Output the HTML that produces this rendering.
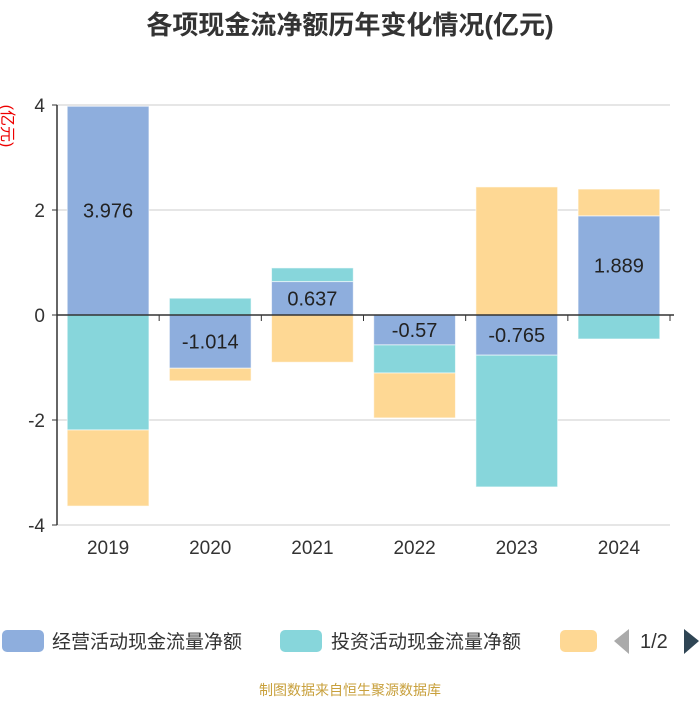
<!DOCTYPE html>
<html><head><meta charset="utf-8"><style>
body{margin:0;background:#fff;width:700px;height:700px;overflow:hidden;font-family:"Liberation Sans","Noto Sans CJK SC",sans-serif}
</style></head><body>
<svg id="c" width="700" height="700" xmlns="http://www.w3.org/2000/svg">
<text x="350" y="34" text-anchor="middle" font-size="26" font-weight="bold" fill="#333" font-family="Liberation Sans, Noto Sans CJK SC, sans-serif">各项现金流净额历年变化情况(亿元)</text>
<text transform="translate(2,126) rotate(90)" text-anchor="middle" font-size="16" fill="#e00" font-family="Liberation Sans, Noto Sans CJK SC, sans-serif">(亿元)</text>
<g id="grid"></g><g id="bars"></g><g id="axes"></g>
<g font-family="Liberation Sans, Noto Sans CJK SC, sans-serif" font-size="19" fill="#333">
<rect x="2" y="630" width="42" height="22" rx="5" fill="#8eaedd"/>
<text x="52" y="648">经营活动现金流量净额</text>
<rect x="280" y="630" width="42" height="22" rx="5" fill="#87d6db"/>
<text x="331" y="648">投资活动现金流量净额</text>
<rect x="560" y="630" width="37" height="22" rx="5" fill="#fed894"/>
<polygon points="614,641 629,629 629,654" fill="#aaa"/>
<text x="640" y="648" font-size="20">1/2</text>
<polygon points="684,629 699,641 684,654" fill="#2f4554"/>
</g>
<text x="350" y="695" text-anchor="middle" font-size="14" fill="#c8a03c" font-family="Liberation Sans, Noto Sans CJK SC, sans-serif">制图数据来自恒生聚源数据库</text>
</svg>
<script>
const categories=["2019","2020","2021","2022","2023","2024"];
const operating=[3.976,-1.014,0.637,-0.57,-0.765,1.889];
const investing=[-2.19,0.32,0.26,-0.535,-2.51,-0.457];
const financing=[-1.45,-0.24,-0.9,-0.855,2.44,0.51];
const yTicks=[-4,-2,0,2,4];
const NS="http://www.w3.org/2000/svg";
const x0=57,x1=670,y0px=315,unit=52.5;
const bw=(x1-x0)/categories.length;
function y(v){return y0px-v*unit;}
function xc(i){return x0+bw*(i+0.5);}
function mk(tag,attrs,parent,txt){const e=document.createElementNS(NS,tag);for(const k in attrs)e.setAttribute(k,attrs[k]);if(txt!=null)e.textContent=txt;document.getElementById(parent).appendChild(e);return e;}
yTicks.forEach(t=>{
 const l=mk('line',{x1:x0,x2:x1,y1:y(t),y2:y(t),stroke:'#ccc','stroke-width':1},'grid');
 
 
 const tk=mk('line',{x1:x0-5,x2:x0,y1:y(t),y2:y(t),stroke:'#333'},'axes');
 
 
 const tx=mk('text',{x:x0-12,y:y(t)+7,'text-anchor':'end','font-size':19,fill:'#333'},'axes',String(t));
 
 
});
const ya=mk('line',{x1:x0,x2:x0,y1:y(4),y2:y(-4),stroke:'#333','stroke-width':1.5},'axes');


const xa=mk('line',{x1:x0,x2:x1+4,y1:y(0),y2:y(0),stroke:'#333','stroke-width':1.5},'axes');


const series=[[operating,'#8eaedd','operating'],[investing,'#87d6db','investing'],[financing,'#fed894','financing']];
categories.forEach((c,i)=>{
 let pos=0,neg=0;
 series.forEach(([arr,col,nm])=>{
  const v=arr[i];let a,b;
  if(v>=0){a=pos;b=pos+v;pos=b;}else{a=neg;b=neg+v;neg=b;}
  const top=Math.min(y(a),y(b)),h=Math.abs(y(a)-y(b));
  const r=mk('rect',{x:xc(i)-bw*0.4,y:top,width:bw*0.8,height:h,fill:col,stroke:'rgba(255,255,255,0.6)','stroke-width':1},'bars');
  
  
  if(nm==='operating'){
   const lb=mk('text',{x:xc(i),y:top+h/2+7,'text-anchor':'middle','font-size':20,fill:'#222'},'bars',String(v));
   
   
  }
 });
 const t=mk('line',{x1:x0+bw*i,x2:x0+bw*i,y1:y(0),y2:y(0)+6,stroke:'#333'},'axes');
 
 
 const xl=mk('text',{x:xc(i),y:554,'text-anchor':'middle','font-size':19,fill:'#333'},'axes',c);
 
 
});
const tl=mk('line',{x1:x1,x2:x1,y1:y(0),y2:y(0)+6,stroke:'#333'},'axes');


</script>
</body></html>
